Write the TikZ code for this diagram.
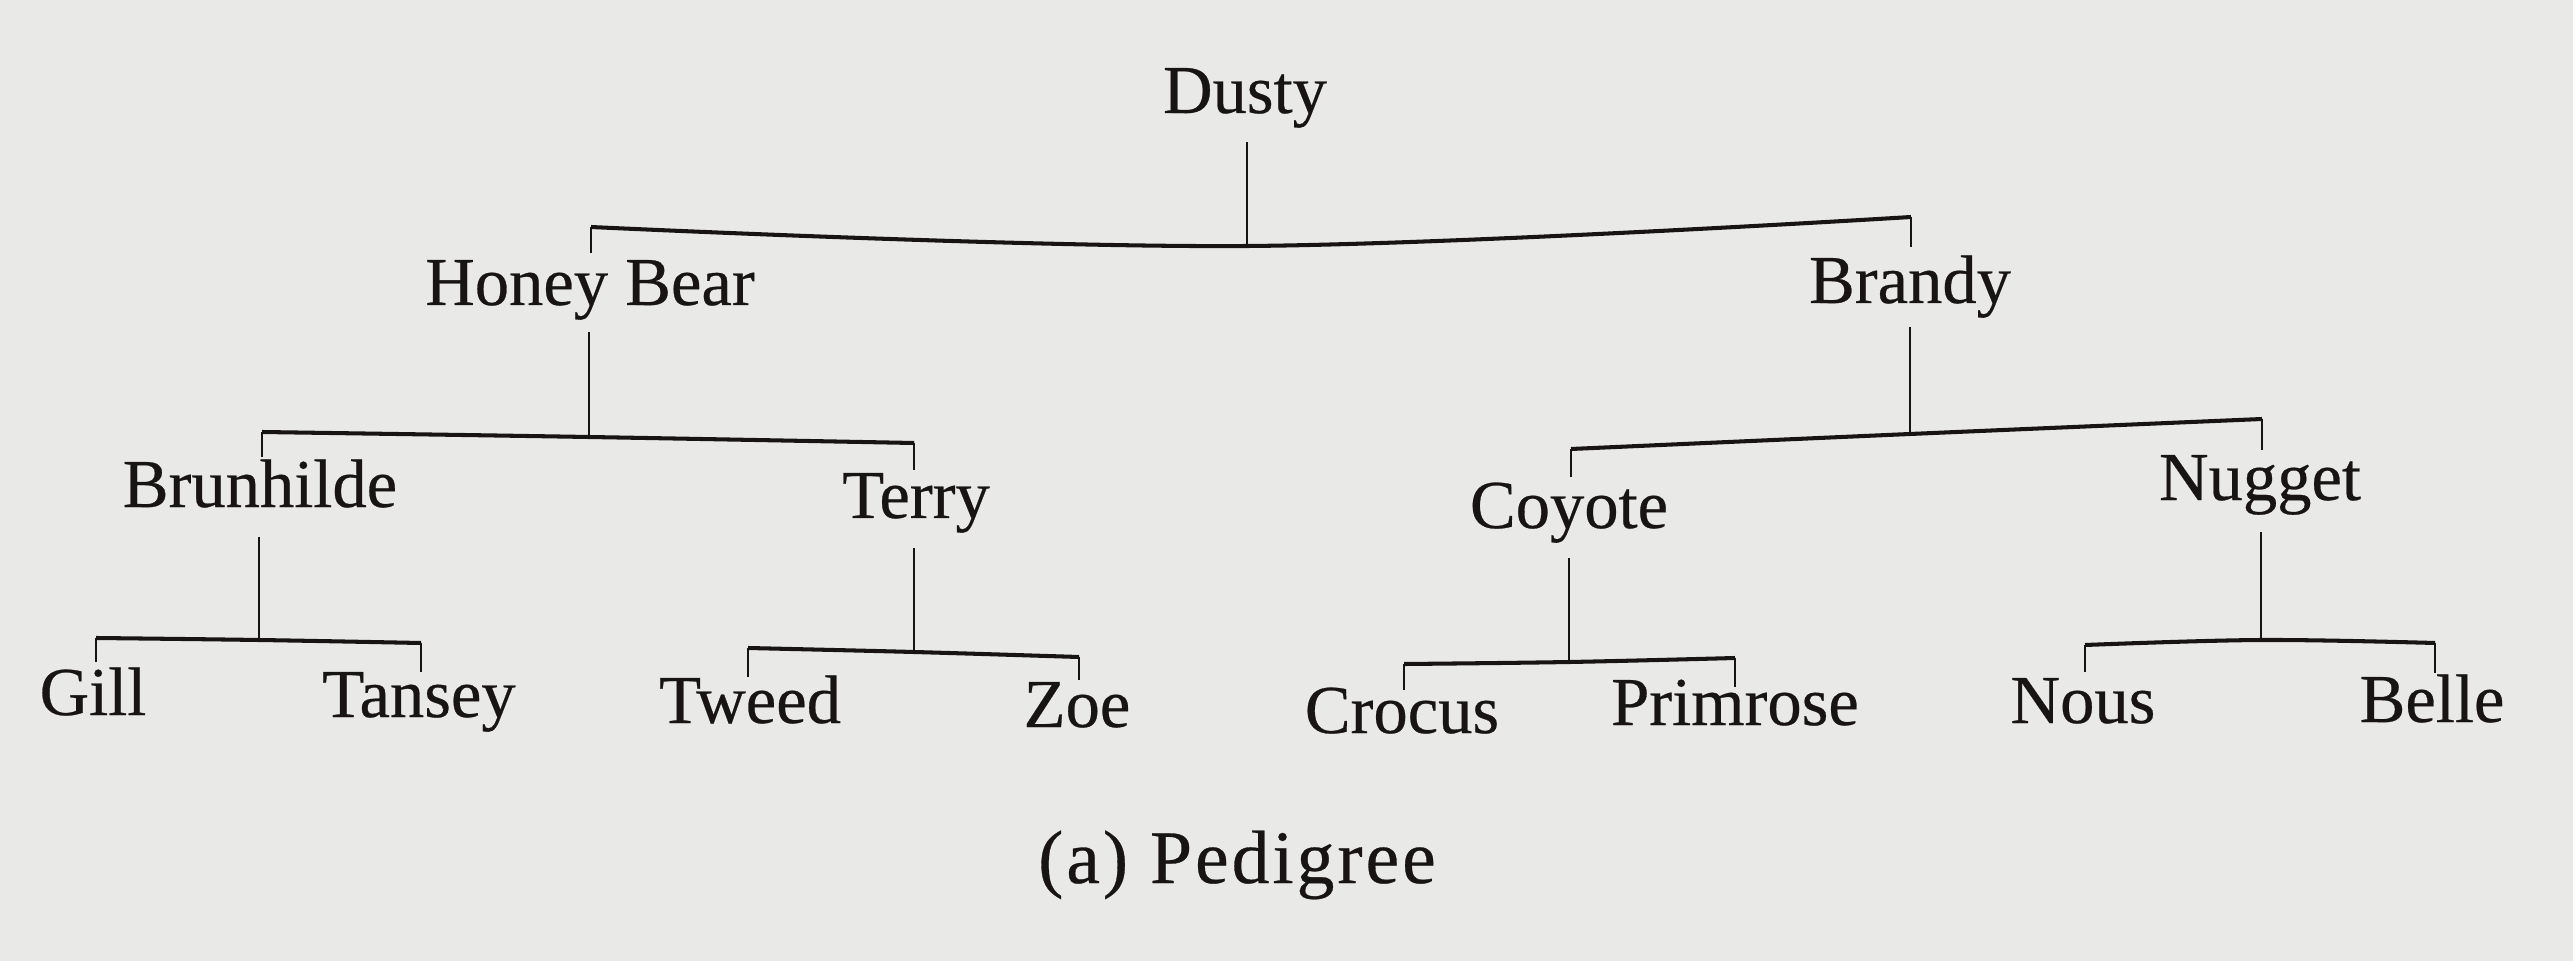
\documentclass[tikz,border=0pt]{standalone}
\usepackage{fontspec}
\setmainfont{Liberation Serif}[FakeBold=0.4]
\definecolor{paper}{HTML}{E9E9E7}
\definecolor{ink}{HTML}{181414}
\begin{document}
\begin{tikzpicture}[x=0.01cm,y=-0.01cm,
  pname/.style={anchor=base,inner sep=0pt,text=ink,font=\fontsize{19.5}{23}\selectfont},
  capt/.style={anchor=base,inner sep=0pt,text=ink,font=\fontsize{21.5}{26}\selectfont\addfontfeature{LetterSpace=4}},
  stem/.style={draw=ink,line width=0.6pt},
  bar/.style={draw=ink,line width=1.15pt,line join=round}]
\fill[paper] (0,0) rectangle (2573,961);
\useasboundingbox (0,0) rectangle (2573,961);

% ---- names ----
\node[pname] (dusty) at (1245,113) {Dusty};
\node[pname] (honey) at (590,305) {Honey Bear};
\node[pname] (brandy) at (1910,303) {Brandy};
\node[pname] (brun) at (260,507) {Brunhilde};
\node[pname] (terry) at (916,518) {Terry};
\node[pname] (coyote) at (1569,528) {Coyote};
\node[pname] (nugget) at (2260,500) {Nugget};
\node[pname] (gill) at (93,715) {Gill};
\node[pname] (tansey) at (419,717) {Tansey};
\node[pname] (tweed) at (750,723) {Tweed};
\node[pname] (zoe) at (1077,727) {Zoe};
\node[pname] (crocus) at (1402,733) {Crocus};
\node[pname] (primrose) at (1735,725) {Primrose};
\node[pname] (nous) at (2083,723) {Nous};
\node[pname] (belle) at (2432,722) {Belle};
\node[capt] (caption) at (1237,883) {(a) Pedigree};

% ---- connector points ----
% Dusty
\coordinate (d-s) at (1247,142); \coordinate (d-j) at (1247,246);
\coordinate (d-l) at (591,227);   \coordinate (d-lt) at (591,253);
\coordinate (d-r) at (1911,217);  \coordinate (d-rt) at (1911,247);
% Honey Bear
\coordinate (h-s) at (589,332);  \coordinate (h-j) at (589,437);
\coordinate (h-l) at (262,432);  \coordinate (h-lt) at (262,457);
\coordinate (h-r) at (914,443);  \coordinate (h-rt) at (914,470);
% Brandy
\coordinate (b-s) at (1910,327); \coordinate (b-j) at (1910,434);
\coordinate (b-l) at (1571,449); \coordinate (b-lt) at (1571,477);
\coordinate (b-r) at (2262,419); \coordinate (b-rt) at (2262,450);
% Brunhilde
\coordinate (bu-s) at (259,537); \coordinate (bu-j) at (259,640);
\coordinate (bu-l) at (96,638);  \coordinate (bu-lt) at (96,662);
\coordinate (bu-r) at (421,643); \coordinate (bu-rt) at (421,672);
% Terry
\coordinate (t-s) at (914,548);  \coordinate (t-j) at (914,652);
\coordinate (t-l) at (748,648);  \coordinate (t-lt) at (748,677);
\coordinate (t-r) at (1079,657); \coordinate (t-rt) at (1079,680);
% Coyote
\coordinate (c-s) at (1569,558); \coordinate (c-j) at (1569,662);
\coordinate (c-l) at (1404,664); \coordinate (c-lt) at (1404,690);
\coordinate (c-r) at (1735,658); \coordinate (c-rt) at (1735,687);
% Nugget
\coordinate (n-s) at (2261,532); \coordinate (n-j) at (2261,640);
\coordinate (n-l) at (2085,645); \coordinate (n-lt) at (2085,672);
\coordinate (n-r) at (2435,643); \coordinate (n-rt) at (2435,673);

% ---- connectors ----
\foreach \p in {d,h,b,bu,t,c,n}{
  \draw[stem] (\p-s) -- (\p-j);
  \draw[bar] plot[smooth,tension=0.6] coordinates {(\p-l) (\p-j) (\p-r)};
  \draw[stem] (\p-l) -- (\p-lt);
  \draw[stem] (\p-r) -- (\p-rt);
}
\end{tikzpicture}
\end{document}
